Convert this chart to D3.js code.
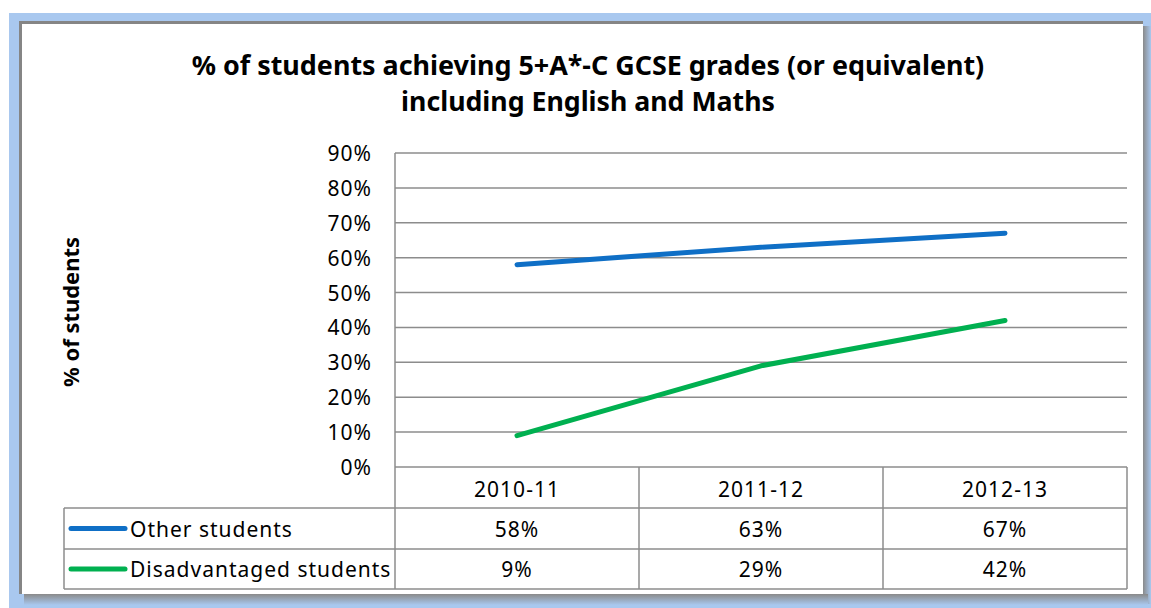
<!DOCTYPE html>
<html>
<head>
<meta charset="utf-8">
<script src="https://cdn.jsdelivr.net/npm/d3@7"></script>
<style>
  body { margin: 0; background: #a9c8ef; }
  svg { display: block; }
  text { font-family: "Noto Sans", "Open Sans", sans-serif; fill: #000; }
  .lbl { font-size: 21px; letter-spacing: 1px; }
</style>
</head>
<body>
<div id="chart"></div>
<script>
// chart data
var years = ["2010-11", "2011-12", "2012-13"];
var otherStudents = [0.58, 0.63, 0.67];
var disadvantagedStudents = [0.09, 0.29, 0.42];
var seriesNames = ["Other students", "Disadvantaged students"];
var seriesColors = ["#0f6fc6", "#00b050"];
var yTicks = [0, 0.1, 0.2, 0.3, 0.4, 0.5, 0.6, 0.7, 0.8, 0.9];

var W = 1151, H = 608;

var svg = d3.select("#chart").append("svg")
    .attr("width", W)
    .attr("height", H);

var defs = svg.append("defs");
var gradR = defs.append("linearGradient").attr("id", "shR");
gradR.append("stop").attr("offset", "0%").attr("stop-color", "#8a8a8a");
gradR.append("stop").attr("offset", "100%").attr("stop-color", "#a9c8ef");
var gradB = defs.append("linearGradient").attr("id", "shB")
    .attr("x1", 0).attr("y1", 0).attr("x2", 0).attr("y2", 1);
gradB.append("stop").attr("offset", "0%").attr("stop-color", "#8a8a8a");
gradB.append("stop").attr("offset", "100%").attr("stop-color", "#a9c8ef");

// frame with shadow
svg.append("rect").attr("x", 0).attr("y", 0).attr("width", W).attr("height", 13).attr("fill", "#fff");
svg.append("rect").attr("x", 0).attr("y", 0).attr("width", 9).attr("height", H).attr("fill", "#fff");
svg.append("rect").attr("x", 1143).attr("y", 26).attr("width", 8).attr("height", 578).attr("fill", "url(#shR)");
svg.append("rect").attr("x", 24).attr("y", 594).attr("width", 1124).attr("height", 11).attr("fill", "url(#shB)");
svg.append("rect").attr("x", 19).attr("y", 21).attr("width", 1124).attr("height", 573).attr("fill", "#858585");
svg.append("rect").attr("x", 22).attr("y", 24).attr("width", 1121).attr("height", 570).attr("fill", "#fff");

// scales
var x = d3.scaleBand().domain(years).range([395, 1127]).padding(0);
var y = d3.scaleLinear().domain([0, 0.9]).range([467, 153]);

function fitText(sel, w) {
    var len = sel.node().getComputedTextLength();
    var fs = parseFloat(sel.style("font-size"));
    sel.style("font-size", (fs * w / len) + "px");
}

// title
var t1 = svg.append("text").attr("x", 588).attr("y", 75)
    .attr("text-anchor", "middle").style("font-weight", "bold").style("font-size", "24px")
    .text("% of students achieving 5+A*-C GCSE grades (or equivalent)");
fitText(t1, 793);
var t2 = svg.append("text").attr("x", 588).attr("y", 111)
    .attr("text-anchor", "middle").style("font-weight", "bold").style("font-size", "24px")
    .text("including English and Maths");
fitText(t2, 374);

// y axis title
var yt = svg.append("text")
    .attr("transform", "translate(79,312) rotate(-90)")
    .attr("text-anchor", "middle")
    .style("font-weight", "bold").style("font-size", "20px")
    .text("% of students");
fitText(yt, 150);

// gridlines
svg.append("g").selectAll("line").data(yTicks).enter().append("line")
    .attr("x1", 395).attr("x2", 1127)
    .attr("y1", function(d) { return y(d); })
    .attr("y2", function(d) { return y(d); })
    .attr("stroke", "#8c8c8c").attr("stroke-width", 1.5);

svg.append("g").selectAll("text").data(yTicks).enter().append("text")
    .attr("class", "lbl")
    .attr("x", 372)
    .attr("y", function(d) { return y(d) + 8; })
    .attr("text-anchor", "end")
    .text(function(d) { return d3.format(".0%")(d); });

// data table
var rowTop = [467, 508, 549, 589];
var tableLeft = 64;
var grid = svg.append("g").attr("stroke", "#8c8c8c").attr("stroke-width", 1.5);
grid.append("line").attr("x1", 395).attr("x2", 395).attr("y1", 153).attr("y2", 589);
years.forEach(function(yr) {
    var xr = x(yr) + x.bandwidth();
    grid.append("line").attr("x1", xr).attr("x2", xr).attr("y1", 467).attr("y2", 589);
});
grid.append("line").attr("x1", tableLeft).attr("x2", tableLeft).attr("y1", 508).attr("y2", 589);
grid.append("line").attr("x1", tableLeft).attr("x2", 1127).attr("y1", 508).attr("y2", 508);
grid.append("line").attr("x1", tableLeft).attr("x2", 1127).attr("y1", 549).attr("y2", 549);
grid.append("line").attr("x1", tableLeft).attr("x2", 1127).attr("y1", 589).attr("y2", 589);

svg.append("g").selectAll("text").data(years).enter().append("text")
    .attr("class", "lbl")
    .attr("x", function(d) { return x(d) + x.bandwidth() / 2; })
    .attr("y", 497)
    .attr("text-anchor", "middle")
    .text(function(d) { return d; });

var allSeries = [otherStudents, disadvantagedStudents];
allSeries.forEach(function(vals, i) {
    var cy = (rowTop[i + 1] + rowTop[i + 2]) / 2;
    svg.append("line")
        .attr("x1", 71).attr("x2", 125).attr("y1", cy).attr("y2", cy)
        .attr("stroke", seriesColors[i]).attr("stroke-width", 5).attr("stroke-linecap", "round");
    svg.append("text").attr("class", "lbl").attr("x", 130).attr("y", cy + 8)
        .text(seriesNames[i]);
    svg.append("g").selectAll("text").data(vals).enter().append("text")
        .attr("class", "lbl")
        .attr("x", function(d, j) { return x(years[j]) + x.bandwidth() / 2; })
        .attr("y", cy + 8)
        .attr("text-anchor", "middle")
        .text(function(d) { return d3.format(".0%")(d); });
});

// lines
var line = d3.line()
    .x(function(d, j) { return x(years[j]) + x.bandwidth() / 2; })
    .y(function(d) { return y(d); });

svg.append("g").selectAll("path").data(allSeries).enter().append("path")
    .attr("d", line)
    .attr("fill", "none")
    .attr("stroke", function(d, i) { return seriesColors[i]; })
    .attr("stroke-width", 5)
    .attr("stroke-linecap", "round")
    .attr("stroke-linejoin", "round");
</script>
</body>
</html>
